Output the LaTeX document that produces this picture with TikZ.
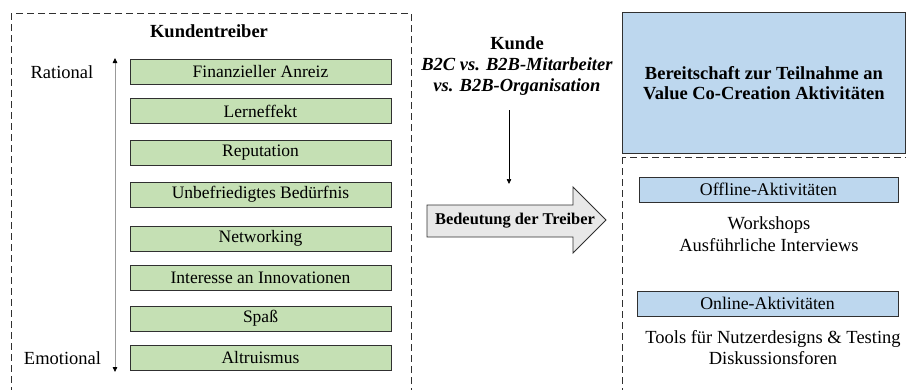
\documentclass[tikz,border=0pt]{standalone}
\usepackage{fontspec}
\setmainfont{Liberation Serif}
\usetikzlibrary{arrows.meta}
\definecolor{drvgreen}{HTML}{C5E0B4}
\definecolor{actblue}{HTML}{BDD7EE}
\definecolor{edgec}{HTML}{303030}
\definecolor{arrowgray}{HTML}{E8E8E8}
\begin{document}
\begin{tikzpicture}[x=1pt,y=-1pt,
  every node/.style={font=\fontsize{18.5}{21}\selectfont, inner sep=0pt},
  drvbox/.style={draw=edgec, line width=0.9pt, fill=drvgreen, minimum width=261pt, minimum height=25pt,
                 font=\fontsize{17.5}{21}\selectfont},
  actbox/.style={draw=edgec, line width=0.9pt, fill=actblue, minimum width=260pt, minimum height=25pt,
                 font=\fontsize{17.8}{21}\selectfont},
  dashbox/.style={draw=edgec, line width=0.9pt, dash pattern=on 7pt off 4pt},
  tipa/.style={-{Triangle[length=5pt,width=4.5pt]}}
]
\clip (0,0) rectangle (906,389);
% dashed frames
\draw[dashbox] (11,13) rectangle (411,400);
\draw[dashbox] (622,157) rectangle (920,400);
% blue top box
\node[draw=edgec, line width=0.9pt, fill=actblue, minimum width=283pt, minimum height=141pt, anchor=north west,
      font=\bfseries\fontsize{18.5}{20}\selectfont, align=center] (bereit) at (622,12)
  {Bereitschaft zur Teilnahme an\\Value Co-Creation Aktivitäten};
% left part
\node[font=\bfseries\fontsize{18.5}{21}\selectfont] (kt) at (209,31) {Kundentreiber};
\node (rat) at (62,72) {Rational};
\node (emo) at (62.5,358) {Emotional};
\node[drvbox] (d1) at (260.5,71.5) {Finanzieller Anreiz};
\node[drvbox] (d2) at (260.5,111) {Lerneffekt};
\node[drvbox] (d3) at (260.5,153) {Reputation};
\node[drvbox] (d4) at (260.5,194.5) {Unbefriedigtes Bedürfnis};
\node[drvbox] (d5) at (260.5,238.5) {Networking};
\node[drvbox] (d6) at (260.5,278) {Interesse an Innovationen};
\node[drvbox] (d7) at (260.5,318.5) {Spaß};
\node[drvbox] (d8) at (260.5,357.5) {Altruismus};
\coordinate (ax1) at (115,58);
\coordinate (ax2) at (115,372);
\draw[gray!80, line width=0.8pt, {Triangle[length=5pt,width=4.5pt,color=black]}-{Triangle[length=5pt,width=4.5pt,color=black]}] (ax1) -- (ax2);
% middle part
\node[align=center, font=\fontsize{18.5}{21}\selectfont] (kunde) at (517,66)
  {\textbf{Kunde}\\\textbf{\textit{B2C vs. B2B-Mitarbeiter}}\\\textbf{\textit{vs. B2B-Organisation}}};
\coordinate (k1) at (509,110);
\coordinate (k2) at (509,184);
\draw[tipa, line width=0.7pt] (k1) -- (k2);
\draw[draw=edgec, line width=0.9pt, fill=arrowgray]
  (427,205) -- (573,205) -- (573,187) -- (606,220) -- (573,253) -- (573,237) -- (427,237) -- cycle;
\node[font=\bfseries\fontsize{16.4}{20}\selectfont] (treiber) at (515,221) {Bedeutung der Treiber};
% right part
\node[actbox, minimum width=259pt] (off) at (768.5,189.5) {Offline-Aktivitäten};
\node[align=center, font=\fontsize{18.5}{22}\selectfont] (offl) at (769,234) {Workshops\\Ausführliche Interviews};
\node[actbox, minimum width=261pt] (on) at (767.5,303.5) {Online-Aktivitäten};
\node[align=center] (onl) at (773,347.5) {Tools für Nutzerdesigns \& Testing\\Diskussionsforen};
\end{tikzpicture}
\end{document}
